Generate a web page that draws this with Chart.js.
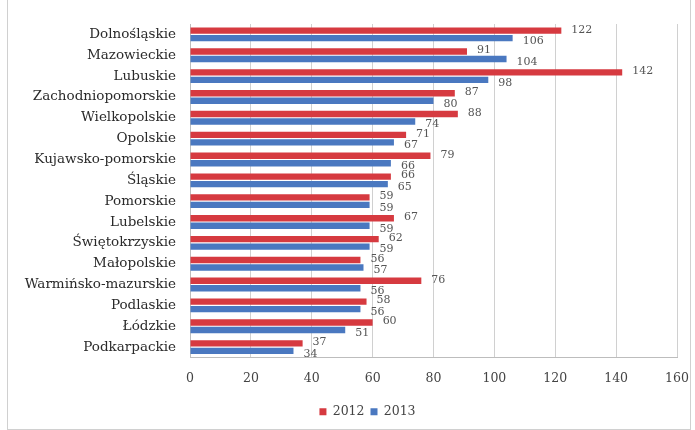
<!DOCTYPE html>
<html><head><meta charset="utf-8">
<script src="https://cdn.jsdelivr.net/npm/chart.js@4"></script>
<style>
html,body{margin:0;padding:0;background:#fff;}
#wrap{position:absolute;left:0;top:0;width:695px;height:430px;}
#frame{position:absolute;left:7px;top:0px;width:684px;height:430px;border:1px solid #d0d0d0;border-top:none;box-sizing:border-box;}
canvas{position:absolute;left:0;top:0;}
</style></head>
<body>
<div id="wrap"><div id="frame"></div><canvas id="c" width="695" height="430"></canvas></div>
<script>
const categories = ["Dolnośląskie","Mazowieckie","Lubuskie","Zachodniopomorskie","Wielkopolskie","Opolskie","Kujawsko-pomorskie","Śląskie","Pomorskie","Lubelskie","Świętokrzyskie","Małopolskie","Warmińsko-mazurskie","Podlaskie","Łódzkie","Podkarpackie"];
const values2012 = [122,91,142,87,88,71,79,66,59,67,62,56,76,58,60,37];
const values2013 = [106,104,98,80,74,67,66,65,59,59,59,57,56,56,51,34];
const xTicks = [0,20,40,60,80,100,120,140,160];

const labelPlugin = {
  id:'vlabels',
  afterLayout(chart){
    const lg = chart.legend;
    if(lg){ lg.left += 24; lg.right += 24; }
  },
  afterDatasetsDraw(chart){
    const ctx = chart.ctx;
    ctx.save();
    ctx.font = '11px "DejaVu Serif"';
    ctx.fillStyle = '#555';
    ctx.textBaseline = 'middle';
    chart.data.datasets.forEach((ds,i)=>{
      const meta = chart.getDatasetMeta(i);
      meta.data.forEach((bar,j)=>{
        const dy = i===0 ? -1 : 3;
        ctx.fillText(String(ds.data[j]), bar.x + 10, bar.y + dy);
      });
    });
    ctx.restore();
  }
};

new Chart(document.getElementById('c'),{
  type:'bar',
  data:{
    labels:categories,
    datasets:[
      {label:'2012',data:values2012,backgroundColor:'#d63a40',barPercentage:0.85,categoryPercentage:0.72},
      {label:'2013',data:values2013,backgroundColor:'#4a78c0',barPercentage:0.85,categoryPercentage:0.72}
    ]
  },
  options:{
    indexAxis:'y',
    responsive:false,
    animation:false,
    layout:{padding:{left:10,right:18,top:24,bottom:2}},
    scales:{
      x:{min:0,max:160,
        afterBuildTicks(s){ s.ticks = xTicks.map(v=>({value:v})); },
        afterFit(s){ s.height = 42; s.paddingRight = 0; s.paddingLeft = 0; },
        grid:{color:'#d0d0d0',lineWidth:1,drawTicks:false},
        border:{color:'#bdbdbd'},
        ticks:{color:'#444',font:{family:'"DejaVu Serif"',size:12.5},padding:14,maxRotation:0}
      },
      y:{
        afterFit(s){ s.width = 180; },
        grid:{display:false,drawTicks:true,tickLength:4,tickColor:'#bbb'},
        border:{color:'#bdbdbd'},
        ticks:{color:'#2a2a2a',font:{family:'"DejaVu Serif"',size:13.5},padding:10,autoSkip:false}
      }
    },
    plugins:{
      legend:{position:'bottom',labels:{boxWidth:7,boxHeight:7,color:'#444',font:{family:'"DejaVu Serif"',size:12.5},padding:6}},
      tooltip:{enabled:false}
    }
  },
  plugins:[labelPlugin]
});
</script>
</body></html>
